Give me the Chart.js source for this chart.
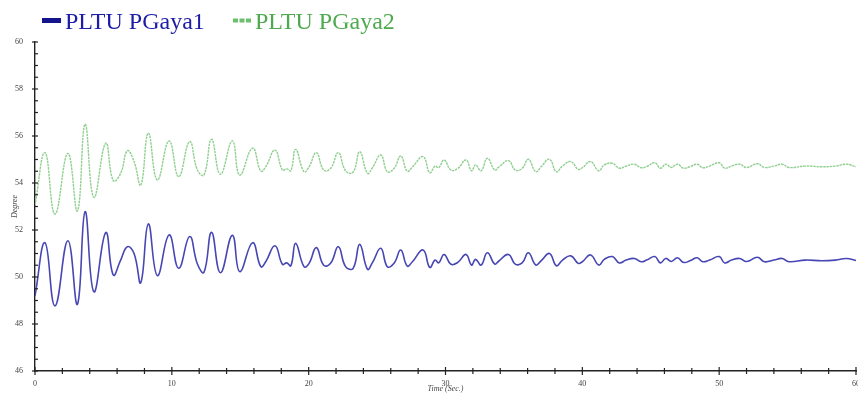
<!DOCTYPE html>
<html>
<head>
<meta charset="utf-8">
<script src="https://cdn.jsdelivr.net/npm/chart.js@4"></script>
<style>
  html, body { margin: 0; padding: 0; background: #fff; }
  #wrap { width: 858px; height: 394px; }
</style>
</head>
<body>
<div id="wrap"><canvas id="myChart"></canvas></div>
<script>
// time stamps (sec) of the peaks / troughs
const times = [0, 0.73, 1.46, 2.4, 3.1, 3.66, 4.3, 5.17, 5.72, 6.26, 6.75, 7.24, 7.73, 8.28, 8.94, 9.8, 10.5, 11.3, 11.87, 12.35,
  12.9, 13.55, 14.42, 14.96, 15.9, 16.5, 16.86, 17.54, 18.08, 18.4, 18.7, 19.05, 19.66, 20.03, 20.56, 21.1, 21.6, 22.17, 22.7,
  23.25, 23.73, 24.3, 24.66, 25.27, 25.75, 26.24, 26.73, 27.2, 27.58, 28.36, 28.85, 29.24, 29.5, 29.9, 30.4, 30.9, 31.5, 31.9,
  32.2, 32.6, 33.06, 33.6, 33.9, 34.6, 35.1, 35.6, 36.06, 36.6, 37.0, 37.6, 38.1, 38.55, 39.16, 39.7, 40.0, 40.6, 41.2, 41.6,
  42.2, 42.7, 43.2, 43.8, 44.3, 44.7, 45.3, 45.7, 46.1, 46.5, 46.95, 47.4, 47.9, 48.4, 48.8, 49.3, 50.0, 50.4, 50.9, 51.5, 52.0,
  52.8, 53.3, 54.0, 54.6, 55.1, 56.3, 57.5, 58.5, 59.3, 60];

const pgaya1 = [49.2, 51.46, 48.77, 51.54, 48.84, 52.78, 49.37, 51.89, 50.09, 50.72, 51.29, 51.0, 49.76, 52.26, 50.06, 51.79, 50.37, 51.72, 50.55, 50.2,
  51.9, 50.18, 51.77, 50.23, 51.46, 50.44, 50.65, 51.33, 50.54, 50.6, 50.48, 51.43, 50.44, 50.58, 51.25, 50.5, 50.58, 51.29, 50.44,
  50.37, 51.39, 50.33, 50.61, 51.22, 50.44, 50.58, 51.15, 50.47, 50.65, 51.15, 50.41, 50.72, 50.6, 50.96, 50.54, 50.62, 50.96, 50.51,
  50.75, 50.51, 51.03, 50.55, 50.68, 50.96, 50.55, 50.6, 51.03, 50.51, 50.7, 51.0, 50.48, 50.72, 50.9, 50.58, 50.65, 50.94, 50.51, 50.75,
  50.87, 50.6, 50.72, 50.79, 50.65, 50.72, 50.87, 50.6, 50.79, 50.66, 50.82, 50.62, 50.7, 50.82, 50.65, 50.72, 50.87, 50.6, 50.72, 50.79, 50.66,
  50.84, 50.65, 50.72, 50.79, 50.65, 50.72, 50.69, 50.72, 50.79, 50.7];

const pgaya2 = [53.06, 55.29, 52.68, 55.26, 52.81, 56.5, 53.39, 55.69, 54.1, 54.41, 55.37, 54.91, 53.91, 56.12, 54.13, 55.79, 54.27, 55.76, 54.55, 54.34,
  55.86, 54.37, 55.79, 54.34, 55.48, 54.51, 54.69, 55.4, 54.55, 54.6, 54.52, 55.43, 54.48, 54.69, 55.29, 54.55, 54.62, 55.29, 54.52,
  54.46, 55.33, 54.41, 54.65, 55.19, 54.48, 54.62, 55.15, 54.5, 54.68, 55.12, 54.44, 54.72, 54.65, 54.98, 54.55, 54.62, 54.98, 54.52,
  54.77, 54.52, 55.05, 54.55, 54.68, 54.95, 54.55, 54.62, 55.01, 54.48, 54.7, 55.01, 54.48, 54.72, 54.91, 54.58, 54.65, 54.91, 54.52, 54.77,
  54.84, 54.63, 54.72, 54.8, 54.65, 54.7, 54.86, 54.63, 54.8, 54.66, 54.8, 54.63, 54.7, 54.8, 54.65, 54.72, 54.86, 54.63, 54.72, 54.8, 54.66,
  54.82, 54.66, 54.72, 54.8, 54.66, 54.72, 54.69, 54.72, 54.8, 54.69];

const seriesNames = ['PLTU PGaya1', 'PLTU PGaya2'];
const yLabels = [46, 48, 50, 52, 54, 56, 58, 60];
const xLabels = [0, 10, 20, 30, 40, 50, 60];

const ctx = document.getElementById('myChart');
const serif = '"Liberation Serif", "Times New Roman", serif';

// ticks drawn across the axis line, longer at labelled values
const crossTicks = {
  id: 'crossTicks',
  afterDraw(chart) {
    const c = chart.ctx, area = chart.chartArea;
    const xs = chart.scales.x, ys = chart.scales.y;
    c.save();
    c.strokeStyle = '#222';
    c.lineWidth = 1.2;
    xs.ticks.forEach(t => {
      const px = xs.getPixelForValue(t.value);
      const major = xLabels.includes(t.value);
      c.beginPath();
      c.moveTo(px, area.bottom - (major ? 4 : 3));
      c.lineTo(px, area.bottom + (major ? 4 : 3));
      c.stroke();
    });
    ys.ticks.forEach(t => {
      const py = ys.getPixelForValue(t.value);
      const major = yLabels.includes(t.value);
      c.beginPath();
      c.moveTo(area.left - (major ? 3 : 0), py);
      c.lineTo(area.left + 3, py);
      c.stroke();
    });
    c.restore();
  }
};

// legend drawn by hand so the marker/text spacing matches the picture
const topLegend = {
  id: 'topLegend',
  afterDraw(chart) {
    const c = chart.ctx;
    const items = [
      { x: 42, textX: 65, color: '#14148c', text: '#1c1ca6', dotted: false },
      { x: 233, textX: 255, color: '#6cbf6c', text: '#4eaa4e', dotted: true }
    ];
    c.save();
    c.font = '24px ' + serif;
    c.textBaseline = 'alphabetic';
    items.forEach((it, i) => {
      c.fillStyle = it.color;
      if (it.dotted) {
        for (let k = 0; k < 3; k++) c.fillRect(it.x + k * 6.5, 18.5, 5, 4);
      } else {
        c.fillRect(it.x, 18, 19, 5);
      }
      c.fillStyle = it.text;
      c.fillText(chart.data.datasets[i].label, it.textX, 29);
    });
    c.restore();
  }
};

function toPoints(ys) {
  return times.map((t, i) => ({ x: t, y: ys[i] }));
}

new Chart(ctx, {
  type: 'line',
  data: {
    datasets: [{
      label: seriesNames[0],
      data: toPoints(pgaya1),
      borderColor: '#4646b4',
      borderWidth: 1.6,
      pointRadius: 0,
      tension: 0.45,
      fill: false
    }, {
      label: seriesNames[1],
      data: toPoints(pgaya2),
      borderColor: '#90cf90',
      borderWidth: 1.4,
      borderDash: [2.5, 0.8],
      pointRadius: 0,
      tension: 0.45,
      fill: false
    }]
  },
  options: {
    responsive: true,
    maintainAspectRatio: false,
    animation: false,
    layout: { padding: { left: 0, right: 2, top: 42, bottom: 0 } },
    plugins: {
      tooltip: { enabled: false },
      legend: { display: false }
    },
    scales: {
      x: {
        type: 'linear',
        min: 0,
        max: 60,
        ticks: {
          stepSize: 2,
          autoSkip: false,
          maxRotation: 0,
          padding: 0,
          color: '#444',
          font: { family: serif, size: 8 },
          callback: v => xLabels.includes(v) ? String(v) : ''
        },
        grid: { display: false },
        border: { display: true, color: '#222', width: 1.4 },
        title: {
          display: true,
          text: 'Time (Sec.)',
          color: '#444',
          padding: { top: 2, bottom: 0 },
          font: { family: serif, size: 8, style: 'italic' }
        },
        afterFit(scale) {
          scale.height = 23;
          scale.paddingLeft = 0;
          scale.paddingRight = 0;
        }
      },
      y: {
        min: 46,
        max: 60,
        ticks: {
          stepSize: 0.5,
          autoSkip: false,
          padding: 4,
          color: '#444',
          font: { family: serif, size: 8 },
          callback: v => yLabels.includes(v) ? String(v) : ''
        },
        grid: { display: false },
        border: { display: true, color: '#222', width: 1.4 },
        title: {
          display: true,
          text: 'Degree',
          color: '#444',
          padding: { top: 10, bottom: 0 },
          font: { family: serif, size: 8, style: 'italic' }
        },
        afterFit(scale) {
          scale.width = 35;
          scale.paddingTop = 0;
          scale.paddingBottom = 0;
        }
      }
    }
  },
  plugins: [crossTicks, topLegend]
});
</script>
</body>
</html>
